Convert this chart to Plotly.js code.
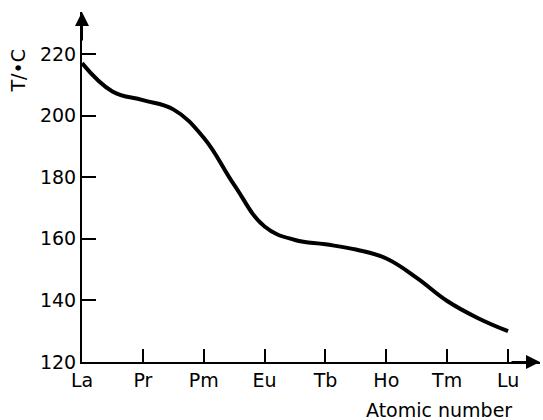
<!DOCTYPE html>
<html>
<head>
<meta charset="utf-8">
<script src="https://cdn.plot.ly/plotly-3.0.1.min.js"></script>
<style>html,body{margin:0;padding:0;background:#fff;}#chart{width:543px;height:420px;}</style>
</head>
<body>
<div id="chart"></div>
<script>
// Atomic numbers (La=57 ... Lu=71) and read-off temperatures (°C)
const atomicNumbers = [57, 58, 59, 60, 61, 62, 63, 64, 65, 66, 67, 68, 69, 70, 71];
const temperatures  = [217, 207.8, 205, 202, 192.8, 177.5, 164, 159.6, 158.2, 156.5, 153.6, 147.3, 139.8, 134.3, 130];
const tickValues = [57, 59, 61, 63, 65, 67, 69, 71];
const tickLabels = ['La', 'Pr', 'Pm', 'Eu', 'Tb', 'Ho', 'Tm', 'Lu'];
const yTicks = [120, 140, 160, 180, 200, 220];

const font = {family: 'DejaVu Sans, sans-serif', size: 19, color: '#000'};

const trace = {
  x: atomicNumbers, y: temperatures, type: 'scatter', mode: 'lines',
  line: {color: '#000', width: 4, shape: 'spline', smoothing: 1.2},
  hoverinfo: 'skip'
};

const layout = {
  width: 543, height: 420,
  margin: {l: 82, r: 3, t: 12, b: 58},
  paper_bgcolor: '#fff', plot_bgcolor: '#fff',
  showlegend: false,
  font: font,
  xaxis: {
    range: [57, 72.05], showgrid: false, zeroline: false,
    showline: true, linecolor: '#000', linewidth: 2,
    ticks: 'inside', ticklen: 13, tickwidth: 2, tickcolor: '#000',
    tickmode: 'array', tickvals: tickValues, ticktext: tickLabels,
    tickfont: font
  },
  yaxis: {
    range: [120, 233.6], showgrid: false, zeroline: false,
    showline: true, linecolor: '#000', linewidth: 2,
    ticks: 'inside', ticklen: 14, tickwidth: 2, tickcolor: '#000',
    tickmode: 'array', tickvals: yTicks,
    tickfont: font
  },
  annotations: [
    {xref: 'paper', yref: 'paper', x: 1, y: 0, ax: -30, ay: 0, text: '',
     showarrow: true, arrowhead: 2, arrowsize: 1.4, arrowwidth: 2, arrowcolor: '#000'},
    {xref: 'paper', yref: 'paper', x: 0, y: 1, ax: 0, ay: 30, text: '',
     showarrow: true, arrowhead: 2, arrowsize: 1.4, arrowwidth: 2, arrowcolor: '#000'},
    {xref: 'paper', yref: 'paper', x: 0.78, y: 0, yshift: -48, xanchor: 'center', yanchor: 'middle',
     text: 'Atomic number', showarrow: false, font: font},
    {xref: 'paper', yref: 'paper', x: 0, xshift: -65, y: 0.83, xanchor: 'center', yanchor: 'middle',
     text: 'T/•C', textangle: -90, showarrow: false, font: font}
  ]
};

Plotly.newPlot('chart', [trace], layout, {displayModeBar: false, staticPlot: true});
</script>
</body>
</html>
